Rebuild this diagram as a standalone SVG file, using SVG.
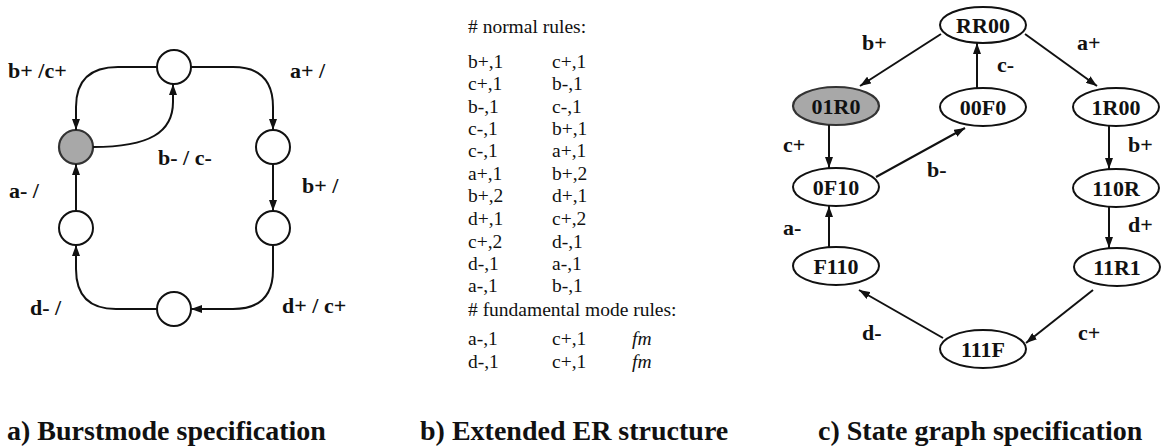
<svg xmlns="http://www.w3.org/2000/svg" width="1168" height="447" viewBox="0 0 1168 447" font-family="'Liberation Serif', 'Times New Roman', serif">
<defs>
<marker id="arr" markerUnits="userSpaceOnUse" markerWidth="12" markerHeight="8" refX="11" refY="4" orient="auto">
<path d="M0,0 L11,4 L0,8 z" fill="#111"/>
</marker>
<style>
text{font-family:'Liberation Serif','Times New Roman',serif}
.st{fill:#fff;stroke:#111;stroke-width:2}
.gr{fill:#a8a8a8;stroke:#333;stroke-width:2.2}
.ed{fill:none;stroke:#111;stroke-width:2;marker-end:url(#arr)}
.lb{font-weight:bold;font-size:22px;fill:#111}
.nt{font-weight:bold;font-size:22px;fill:#111;text-anchor:middle}
.rt{font-size:19.5px;fill:#111}
.it{font-size:19.5px;fill:#111;font-style:italic}
.cap{font-weight:bold;font-size:28px;fill:#111}
</style>
</defs>
<rect width="1168" height="447" fill="#fff"/>

<!-- Panel a nodes -->
<g id="a_top"><circle class="st" cx="174" cy="67" r="17"/></g>
<g id="a_init"><circle class="gr" cx="76" cy="147" r="17"/></g>
<g id="a_r1"><circle class="st" cx="273" cy="147" r="17"/></g>
<g id="a_r2"><circle class="st" cx="273" cy="228" r="17"/></g>
<g id="a_l2"><circle class="st" cx="76" cy="228" r="17"/></g>
<g id="a_bot"><circle class="st" cx="174" cy="309" r="17"/></g>

<!-- Panel c nodes -->
<g id="RR00"><ellipse class="st" cx="983" cy="25" rx="43" ry="18"/><text class="nt" x="983" y="33">RR00</text></g>
<g id="s01R0"><ellipse class="gr" cx="836" cy="106" rx="43" ry="19"/><text class="nt" x="836" y="114">01R0</text></g>
<g id="s00F0"><ellipse class="st" cx="983" cy="107" rx="43" ry="19"/><text class="nt" x="983" y="115">00F0</text></g>
<g id="s1R00"><ellipse class="st" cx="1116" cy="107" rx="43" ry="19"/><text class="nt" x="1116" y="115">1R00</text></g>
<g id="s0F10"><ellipse class="st" cx="836" cy="187" rx="43" ry="19"/><text class="nt" x="836" y="195">0F10</text></g>
<g id="s110R"><ellipse class="st" cx="1116" cy="188" rx="43" ry="19"/><text class="nt" x="1116" y="196">110R</text></g>
<g id="sF110"><ellipse class="st" cx="836" cy="266" rx="43" ry="19"/><text class="nt" x="836" y="274">F110</text></g>
<g id="s11R1"><ellipse class="st" cx="1117" cy="267" rx="43" ry="19"/><text class="nt" x="1117" y="275">11R1</text></g>
<g id="s111F"><ellipse class="st" cx="983" cy="349" rx="43" ry="19"/><text class="nt" x="983" y="357">111F</text></g>

<!-- Connectors -->
<g id="connectors">
<path class="ed" d="M157,67 L118,67 Q76,67 76,107 L76,130"/>
<path class="ed" d="M93,147 C150,147 173,132 173,102 L173,84"/>
<path class="ed" d="M191,67 L233,67 Q273,67 273,107 L273,130"/>
<path class="ed" d="M273,164 L273,211"/>
<path class="ed" d="M273,245 L273,270 Q273,309 233,309 L191,309"/>
<path class="ed" d="M157,309 L116,309 Q76,309 76,269 L76,245"/>
<path class="ed" d="M76,211 L76,164"/>

<path class="ed" d="M941,34 L860,86"/>
<path class="ed" d="M1025,34 L1097,86"/>
<path class="ed" d="M977,88 L977,43"/>
<path class="ed" d="M829,125 L829,168"/>
<path class="ed" d="M876,177 L965,128"/>
<path class="ed" d="M1109,126 L1109,169"/>
<path class="ed" d="M1109,207 L1109,248"/>
<path class="ed" d="M829,247 L829,206"/>
<path class="ed" d="M1093,290 L1026,343"/>
<path class="ed" d="M943,338 L859,290"/>
</g>

<!-- Panel a labels -->
<g id="a_labels">
<text class="lb" x="8" y="78">b+ /c+</text>
<text class="lb" x="290" y="78">a+ /</text>
<text class="lb" x="158" y="165">b- / c-</text>
<text class="lb" x="9" y="198">a- /</text>
<text class="lb" x="302" y="193">b+ /</text>
<text class="lb" x="30" y="315">d- /</text>
<text class="lb" x="282" y="313">d+ / c+</text>
</g>

<!-- Panel b text -->
<g id="rules">
<text class="rt" x="468" y="33" font-size="21">#  normal rules:</text>
<text class="rt" x="468" y="68">b+,1</text><text class="rt" x="552" y="68">c+,1</text>
<text class="rt" x="468" y="90">c+,1</text><text class="rt" x="552" y="90">b-,1</text>
<text class="rt" x="468" y="113">b-,1</text><text class="rt" x="552" y="113">c-,1</text>
<text class="rt" x="468" y="135">c-,1</text><text class="rt" x="552" y="135">b+,1</text>
<text class="rt" x="468" y="157">c-,1</text><text class="rt" x="552" y="157">a+,1</text>
<text class="rt" x="468" y="180">a+,1</text><text class="rt" x="552" y="180">b+,2</text>
<text class="rt" x="468" y="202">b+,2</text><text class="rt" x="552" y="202">d+,1</text>
<text class="rt" x="468" y="225">d+,1</text><text class="rt" x="552" y="225">c+,2</text>
<text class="rt" x="468" y="248">c+,2</text><text class="rt" x="552" y="248">d-,1</text>
<text class="rt" x="468" y="270">d-,1</text><text class="rt" x="552" y="270">a-,1</text>
<text class="rt" x="468" y="292">a-,1</text><text class="rt" x="552" y="292">b-,1</text>
<text class="rt" x="468" y="316" font-size="21">#  fundamental mode rules:</text>
<text class="rt" x="468" y="345">a-,1</text><text class="rt" x="552" y="345">c+,1</text><text class="it" x="632" y="345">fm</text>
<text class="rt" x="468" y="368">d-,1</text><text class="rt" x="552" y="368">c+,1</text><text class="it" x="632" y="368">fm</text>
</g>

<!-- Panel c labels -->
<g id="c_labels">
<text class="lb" x="862" y="50">b+</text>
<text class="lb" x="1077" y="50">a+</text>
<text class="lb" x="997" y="72">c-</text>
<text class="lb" x="783" y="152">c+</text>
<text class="lb" x="927" y="177">b-</text>
<text class="lb" x="1128" y="152">b+</text>
<text class="lb" x="1128" y="232">d+</text>
<text class="lb" x="783" y="235">a-</text>
<text class="lb" x="862" y="340">d-</text>
<text class="lb" x="1078" y="340">c+</text>
</g>

<!-- Captions -->
<g id="captions">
<text class="cap" x="7" y="440">a) Burstmode specification</text>
<text class="cap" x="420" y="440">b) Extended ER structure</text>
<text class="cap" x="818" y="440">c) State graph specification</text>
</g>
</svg>
